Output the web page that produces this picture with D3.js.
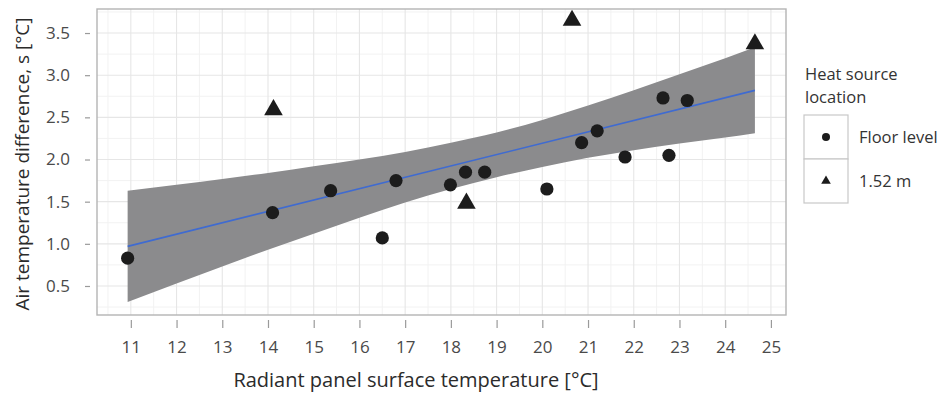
<!DOCTYPE html>
<html>
<head>
<meta charset="utf-8">
<script src="https://cdn.jsdelivr.net/npm/d3@7"></script>
<style>
  body { margin: 0; background: #fff; }
  svg { display: block; font-family: "Open Sans", sans-serif; }
</style>
</head>
<body>
<div id="chart"></div>
<script>
// readings: radiant panel temp (x) vs air temperature difference (y)
var floorX = [10.93, 14.10, 15.37, 16.50, 16.80, 17.99, 18.32, 18.74, 20.10, 20.86, 21.20, 21.81, 22.64, 22.77, 23.17];
var floorY = [0.83, 1.37, 1.63, 1.07, 1.75, 1.70, 1.85, 1.85, 1.65, 2.20, 2.34, 2.03, 2.73, 2.05, 2.70];
var highX = [14.12, 18.34, 20.65, 24.65];
var highY = [2.59, 1.48, 3.65, 3.37];

// smoother line and its band
var fitX = [10.93, 24.65];
var fitY = [0.97, 2.82];
var bandX = [10.93, 12, 13, 14, 15, 16, 17, 18, 19, 20, 21, 22, 23, 24, 24.65];
var bandHi = [1.63, 1.70, 1.77, 1.84, 1.92, 2.00, 2.09, 2.20, 2.32, 2.47, 2.64, 2.82, 3.01, 3.20, 3.33];
var bandLo = [0.31, 0.53, 0.73, 0.93, 1.12, 1.31, 1.49, 1.65, 1.79, 1.91, 2.02, 2.11, 2.19, 2.26, 2.31];

var xTicks = [11, 12, 13, 14, 15, 16, 17, 18, 19, 20, 21, 22, 23, 24, 25];
var yTicks = [0.5, 1.0, 1.5, 2.0, 2.5, 3.0, 3.5];
var legendLabels = ["Floor level", "1.52 m"];

var width = 940,
    height = 393;
var panel = {left: 97, top: 9, right: 786, bottom: 315};

var svg = d3.select("#chart").append("svg")
    .attr("width", width)
    .attr("height", height);

var x = d3.scaleLinear().domain([10.26, 25.33]).range([panel.left, panel.right]);
var y = d3.scaleLinear().domain([0.156, 3.785]).range([panel.bottom, panel.top]);

// grid: minor first, then major
var xMinor = xTicks.map(function(d) { return d - 0.5; }).filter(function(d) { return d > 10.26; });
var yMinor = yTicks.map(function(d) { return d - 0.25; }).concat([3.75]);

var grid = svg.append("g");
grid.selectAll(".vminor").data(xMinor).enter().append("line")
    .attr("x1", x).attr("x2", x)
    .attr("y1", panel.top).attr("y2", panel.bottom)
    .attr("stroke", "#f2f2f2").attr("stroke-width", 1);
grid.selectAll(".hminor").data(yMinor).enter().append("line")
    .attr("y1", y).attr("y2", y)
    .attr("x1", panel.left).attr("x2", panel.right)
    .attr("stroke", "#f2f2f2").attr("stroke-width", 1);
grid.selectAll(".vmajor").data(xTicks).enter().append("line")
    .attr("x1", x).attr("x2", x)
    .attr("y1", panel.top).attr("y2", panel.bottom)
    .attr("stroke", "#e6e6e6").attr("stroke-width", 1.1);
grid.selectAll(".hmajor").data(yTicks).enter().append("line")
    .attr("y1", y).attr("y2", y)
    .attr("x1", panel.left).attr("x2", panel.right)
    .attr("stroke", "#e6e6e6").attr("stroke-width", 1.1);

// confidence band
var band = bandX.map(function(d, i) { return {x: d, lo: bandLo[i], hi: bandHi[i]}; });
svg.append("path")
    .datum(band)
    .attr("fill", "#8b8b8d")
    .attr("d", d3.area()
      .x(function(d) { return x(d.x); })
      .y0(function(d) { return y(d.lo); })
      .y1(function(d) { return y(d.hi); })
      .curve(d3.curveMonotoneX));

// fitted line
svg.append("path")
    .datum(fitX.map(function(d, i) { return [d, fitY[i]]; }))
    .attr("fill", "none")
    .attr("stroke", "#3f6bd1")
    .attr("stroke-width", 1.6)
    .attr("d", d3.line().x(function(d) { return x(d[0]); }).y(function(d) { return y(d[1]); }));

// points
svg.append("g").selectAll("circle")
    .data(floorX.map(function(d, i) { return [d, floorY[i]]; }))
    .enter().append("circle")
      .attr("cx", function(d) { return x(d[0]); })
      .attr("cy", function(d) { return y(d[1]); })
      .attr("r", 6.6)
      .attr("fill", "#1c1c1c");

var tri = d3.symbol().type(d3.symbolTriangle).size(150);
svg.append("g").selectAll("path")
    .data(highX.map(function(d, i) { return [d, highY[i]]; }))
    .enter().append("path")
      .attr("d", tri)
      .attr("transform", function(d) { return "translate(" + x(d[0]) + "," + y(d[1]) + ")"; })
      .attr("fill", "#1c1c1c");

// panel border
svg.append("rect")
    .attr("x", panel.left).attr("y", panel.top)
    .attr("width", panel.right - panel.left)
    .attr("height", panel.bottom - panel.top)
    .attr("fill", "none")
    .attr("stroke", "#b4b4b4")
    .attr("stroke-width", 1.4);

// axes, detached from the panel a little
var xAxis = svg.append("g")
    .attr("transform", "translate(0," + (panel.bottom + 5) + ")")
    .call(d3.axisBottom(x).tickValues(xTicks).tickSize(8).tickPadding(13).tickFormat(d3.format("d")));
var yAxis = svg.append("g")
    .attr("transform", "translate(" + (panel.left - 7) + ",0)")
    .call(d3.axisLeft(y).tickValues(yTicks).tickSize(5).tickPadding(15).tickFormat(d3.format(".1f")));

[xAxis, yAxis].forEach(function(a) {
  a.select(".domain").remove();
  a.selectAll(".tick line").attr("stroke", "#9a9a9a").attr("stroke-width", 1.2);
  a.selectAll(".tick text")
    .attr("fill", "#4a4a4a")
    .style("font-size", "17px")
    .style("font-family", "'Open Sans', sans-serif");
});

// axis titles
svg.append("text")
    .attr("x", 416).attr("y", 387)
    .attr("text-anchor", "middle")
    .attr("fill", "#2b2b2b")
    .style("font-size", "20px")
    .text("Radiant panel surface temperature [°C]");

svg.append("text")
    .attr("transform", "translate(29," + 164 + ") rotate(-90)")
    .attr("text-anchor", "middle")
    .attr("fill", "#2b2b2b")
    .style("font-size", "19px")
    .text("Air temperature difference, s [°C]");

// legend
var legend = svg.append("g");
legend.append("text").attr("x", 805).attr("y", 80)
    .attr("fill", "#333").style("font-size", "16.5px").text("Heat source");
legend.append("text").attr("x", 805).attr("y", 103)
    .attr("fill", "#333").style("font-size", "16.5px").text("location");

var keys = legend.selectAll(".key").data(legendLabels).enter().append("g")
    .attr("transform", function(d, i) { return "translate(804," + (115 + i * 44) + ")"; });
keys.append("rect")
    .attr("width", 44).attr("height", 44)
    .attr("fill", "#fff").attr("stroke", "#c8c8c8").attr("stroke-width", 1.2);
keys.filter(function(d, i) { return i === 0; }).append("circle")
    .attr("cx", 22).attr("cy", 22).attr("r", 4).attr("fill", "#1c1c1c");
keys.filter(function(d, i) { return i === 1; }).append("path")
    .attr("d", d3.symbol().type(d3.symbolTriangle).size(40))
    .attr("transform", "translate(22,22)")
    .attr("fill", "#1c1c1c");
keys.append("text")
    .attr("x", 55).attr("y", 22).attr("dy", "0.35em")
    .attr("fill", "#333").style("font-size", "16.5px")
    .text(function(d) { return d; });
</script>
</body>
</html>
